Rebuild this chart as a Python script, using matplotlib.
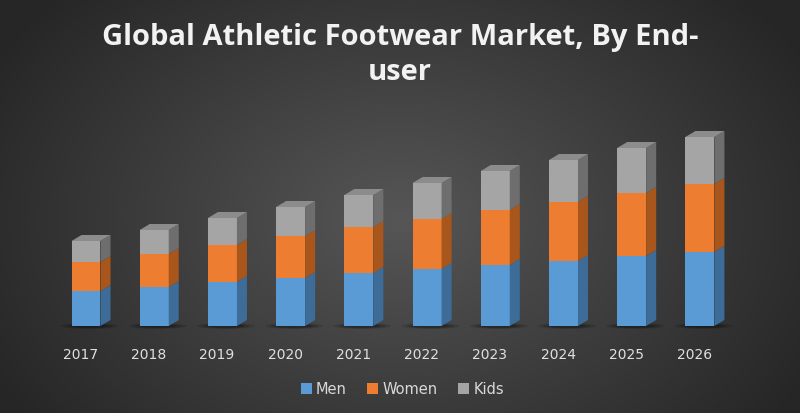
import matplotlib

matplotlib.use("Agg")
import matplotlib.pyplot as plt
import numpy as np
from matplotlib.patches import Polygon, Rectangle, Ellipse

years = ["2017", "2018", "2019", "2020", "2021", "2022", "2023", "2024", "2025", "2026"]
men = [35, 39, 44, 48, 53, 57, 61, 65, 70, 74]
women = [29, 33, 37, 42, 46, 50, 55, 59, 63, 68]
kids = [21, 24, 27, 29, 32, 36, 39, 42, 45, 47]

series = [("Men", men), ("Women", women), ("Kids", kids)]
front = {"Men": "#5b9bd5", "Women": "#ed7d31", "Kids": "#a5a5a5"}
side = {"Men": "#3d6c98", "Women": "#a9561c", "Kids": "#6e6e6e"}
top_c = {"Men": "#7fb2e0", "Women": "#f29a5c", "Kids": "#8c8c8c"}

W, H = 800, 414
fig = plt.figure(figsize=(W / 100, H / 100), dpi=100)

# radial gradient background
bg = fig.add_axes([0, 0, 1, 1])
bg.axis("off")
yy, xx = np.mgrid[0:H, 0:W]
r = np.sqrt(((xx - 400) / 470) ** 2 + ((yy - 220) / 330) ** 2)
r = np.clip(r, 0, 1)
c0 = np.array([0x56, 0x56, 0x56]) / 255
c1 = np.array([0x26, 0x26, 0x26]) / 255
img = c0[None, None, :] * (1 - r[..., None]) + c1[None, None, :] * r[..., None]
bg.imshow(img, extent=[0, W, H, 0], aspect="auto")
bg.set_xlim(0, W)
bg.set_ylim(H, 0)

# plot axes in pixel-ish units
ax = fig.add_axes([51.9 / W, 87 / H, 682.1 / W, 207 / H])
ax.set_facecolor("none")
ax.set_xlim(-0.5, 9.5)
ax.set_ylim(0, 207)
for s in ax.spines.values():
    s.set_visible(False)
ax.set_yticks([])

x = np.arange(len(years))
width = 0.425
dx = 10 / 68.1
dy = 6

for i in x:
    # floor shadow
    for k, a in enumerate([0.12, 0.15, 0.2]):
        ax.add_patch(Ellipse((i + 0.05, 0.0), 0.85 - k * 0.15, 6 - k * 1.2, color="black",
                             alpha=a, lw=0, clip_on=False, zorder=1))
    bottom = 0
    for name, vals in series:
        v = vals[i]
        l, rgt = i - width / 2, i + width / 2
        ax.add_patch(Rectangle((l, bottom), width, v, facecolor=front[name],
                               edgecolor="none", zorder=3, clip_on=False))
        ax.add_patch(Polygon([(rgt, bottom), (rgt + dx, bottom + dy),
                              (rgt + dx, bottom + v + dy), (rgt, bottom + v)],
                             closed=True, facecolor=side[name], edgecolor="none",
                             zorder=3, clip_on=False))
        bottom += v
    ax.add_patch(Polygon([(l, bottom), (l + dx, bottom + dy),
                          (rgt + dx, bottom + dy), (rgt, bottom)],
                         closed=True, facecolor=top_c["Kids"], edgecolor="none",
                         zorder=3, clip_on=False))

ax.set_xticks(x - 0.08)
ax.set_xticklabels(years, fontsize=10, color="#e0e0e0")
ax.tick_params(axis="x", length=0, pad=15)

fig.text(0.5, 1 - 38 / H, "Global Athletic Footwear Market, By End-", ha="center",
         va="center", fontsize=21, fontweight="bold", color="#f2f2f2",
         family="Open Sans")
fig.text(0.5, 1 - 72 / H, "user", ha="center", va="center", fontsize=21,
         fontweight="bold", color="#f2f2f2", family="Open Sans")

handles = [Rectangle((0, 0), 1, 1, facecolor=front[n], edgecolor="none") for n, _ in series]
leg = fig.legend(handles, [n for n, _ in series], loc="center",
                 bbox_to_anchor=(0.503, 1 - 390 / H), ncol=3, frameon=False,
                 handlelength=0.75, handleheight=0.75, handletextpad=0.3,
                 columnspacing=1.4, fontsize=10.5)
for t in leg.get_texts():
    t.set_color("#d9d9d9")

plt.savefig("out.png", dpi=100)
